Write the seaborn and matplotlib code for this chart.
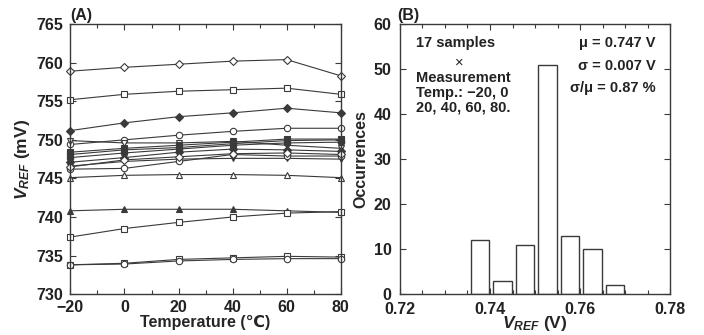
import numpy as np
import pandas as pd
import seaborn as sns
import matplotlib.pyplot as plt

# temperature sweep (deg C)
temps = [-20, 0, 20, 40, 60, 80]

# VREF of each of the 17 samples (mV)
s01 = [758.9, 759.4, 759.8, 760.2, 760.4, 758.3]
s02 = [755.2, 755.9, 756.3, 756.5, 756.7, 755.9]
s03 = [751.2, 752.2, 753.0, 753.5, 754.1, 753.5]
s04 = [749.4, 750.0, 750.6, 751.1, 751.5, 751.5]
s05 = [749.9, 749.6, 749.6, 749.8, 749.3, 748.9]
s06 = [748.4, 748.9, 749.3, 749.7, 750.1, 750.1]
s07 = [748.1, 748.7, 749.0, 749.5, 749.9, 750.0]
s08 = [747.7, 748.3, 748.8, 749.3, 749.6, 749.7]
s09 = [747.1, 747.7, 748.4, 748.8, 748.7, 748.5]
s10 = [746.6, 747.2, 747.5, 747.6, 747.6, 747.5]
s11 = [746.2, 746.3, 747.2, 748.1, 747.9, 747.9]
s12 = [746.5, 747.4, 747.8, 748.2, 748.3, 748.1]
s13 = [745.1, 745.4, 745.5, 745.5, 745.4, 745.1]
s14 = [740.8, 741.0, 741.0, 741.0, 740.8, 740.6]
s15 = [737.4, 738.5, 739.3, 740.0, 740.5, 740.7]
s16 = [733.8, 734.0, 734.5, 734.7, 734.9, 734.8]
s17 = [733.8, 733.9, 734.3, 734.5, 734.6, 734.6]

samples = [s01, s02, s03, s04, s05, s06, s07, s08, s09,
           s10, s11, s12, s13, s14, s15, s16, s17]
# (marker, filled)
styles = [('D', False), ('s', False), ('D', True), ('o', False), ('v', False),
          ('s', True), ('s', True), ('o', True), ('D', True), ('v', True),
          ('o', False), ('D', False), ('^', False), ('^', True), ('s', False),
          ('s', False), ('o', False)]

# histogram of all VREF values (V)
bin_centers = [0.7378, 0.7428, 0.7478, 0.7528, 0.7578, 0.7628, 0.7678]
counts = [12, 3, 11, 51, 13, 10, 2]

sns.set_style('ticks')
plt.rcParams['font.family'] = ['Liberation Sans', 'DejaVu Sans']
plt.rcParams['font.weight'] = 'bold'
plt.rcParams['axes.labelweight'] = 'bold'
plt.rcParams['mathtext.fontset'] = 'custom'
plt.rcParams['mathtext.it'] = 'Liberation Sans:style=italic:weight=bold'
plt.rcParams['mathtext.rm'] = 'Liberation Sans:weight=bold'

ink = '#3a3a3a'
txt = '#222222'
fs = 11

fig = plt.figure(figsize=(7.04, 3.35), dpi=100)
axA = fig.add_axes([0.100, 0.122, 0.384, 0.806])
axB = fig.add_axes([0.568, 0.122, 0.384, 0.806])

# ---- (A) VREF vs temperature
for vals, (mk, filled) in zip(samples, styles):
    df = pd.DataFrame({'T': temps, 'V': vals})
    ms = 3.8 if mk == 'D' else 4.6
    sns.lineplot(data=df, x='T', y='V', ax=axA, color=ink, lw=0.8,
                 marker=mk, markersize=ms, markeredgecolor=ink,
                 markerfacecolor=ink if filled else 'white',
                 markeredgewidth=0.8, clip_on=False)

axA.set_xlim(-20, 80)
axA.set_ylim(730, 765)
axA.set_xticks(temps)
axA.set_xticks(np.arange(-10, 80, 20), minor=True)
axA.set_yticks(np.arange(730, 766, 5))
axA.set_xlabel('Temperature (\u2103)', fontsize=fs + 0.5, labelpad=0)
axA.set_ylabel(r'$V_{REF}$ (mV)', fontsize=fs + 1.5, labelpad=3)
axA.text(0.0, 1.005, '(A)', transform=axA.transAxes, fontsize=fs + 0.5,
         fontweight='bold', va='bottom', ha='left', color=txt)

# ---- (B) histogram
edges = [c - 0.0025 for c in bin_centers] + [bin_centers[-1] + 0.0025]
sns.histplot(x=bin_centers, weights=counts, bins=edges, shrink=0.82,
             ax=axB, color='white', edgecolor=ink, linewidth=1.0, alpha=1)
axB.set_xlim(0.72, 0.78)
axB.set_ylim(0, 60)
axB.set_xticks([0.72, 0.74, 0.76, 0.78])
axB.set_xticks(np.arange(0.725, 0.78, 0.005), minor=True)
axB.set_yticks(np.arange(0, 61, 10))
axB.set_xlabel(r'$V_{REF}$ (V)', fontsize=fs + 1.5, labelpad=-2)
axB.set_ylabel('Occurrences', fontsize=fs + 0.5, labelpad=4)
axB.text(-0.01, 1.005, '(B)', transform=axB.transAxes, fontsize=fs + 0.5,
         fontweight='bold', va='bottom', ha='left', color=txt)

axB.text(0.06, 0.955, '17 samples', transform=axB.transAxes, fontsize=10.5,
         fontweight='bold', va='top', color=txt)
axB.text(0.205, 0.885, '\u00d7', transform=axB.transAxes, fontsize=10.5,
         fontweight='normal', va='top', color=txt)
axB.text(0.06, 0.825, 'Measurement\nTemp.: \u221220, 0\n20, 40, 60, 80.',
         transform=axB.transAxes, fontsize=10.5, fontweight='bold', va='top',
         linespacing=1.05, color=txt)
axB.text(0.945, 0.955, '\u03bc = 0.747 V\n\u03c3 = 0.007 V\n\u03c3/\u03bc = 0.87 %',
         transform=axB.transAxes, fontsize=10.5, fontweight='bold', va='top',
         ha='right', linespacing=1.75, color=txt)

for ax in (axA, axB):
    ax.tick_params(which='both', direction='in', top=True, right=True,
                   color=ink, labelsize=fs + 0.5, labelcolor=txt)
    ax.tick_params(axis='y', pad=5)
    ax.tick_params(axis='x', pad=4)
    ax.tick_params(which='major', length=4, width=0.8)
    ax.tick_params(which='minor', length=3, width=0.8)
    for sp in ax.spines.values():
        sp.set_color(ink)
        sp.set_linewidth(1.0)
    for lab in ax.get_xticklabels() + ax.get_yticklabels():
        lab.set_fontweight('bold')
axB.tick_params(axis='x', pad=5.5)
axB.tick_params(axis='y', pad=6)

fig.savefig('out.png', dpi=100)
